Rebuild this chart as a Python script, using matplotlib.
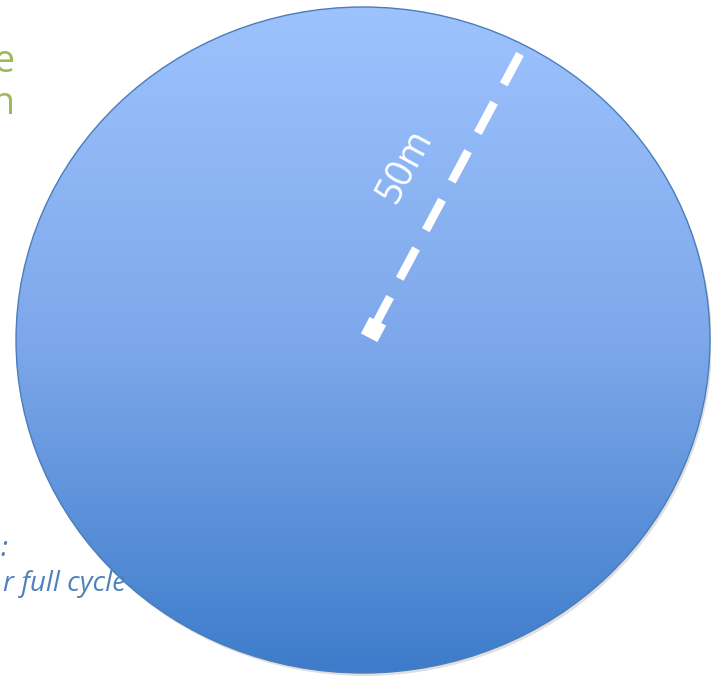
"""Radius sketch: gradient disc with a dashed radius marker."""

import matplotlib.pyplot as plt
import numpy as np
from matplotlib.colors import LinearSegmentedColormap
from matplotlib.patches import Ellipse

# disc geometry in pixel units (y grows downward)
disc_center = (363, 340)
disc_size = (694, 666)
gradient_colors = ["#9DC3FE", "#7EA8EA", "#3D7CCB"]

# radius marker from rim to centre
radius_x = [520, 373]
radius_y = [54, 329]
radius_label = "50m"

# text fragments peeking in from the left
green_lines = ["e", "n"]
blue_lines = [":", "r full cycle"]

fig = plt.figure(figsize=(7.11, 6.78), dpi=100)
ax = fig.add_axes([0, 0, 1, 1])
ax.set_xlim(0, 711)
ax.set_ylim(678, 0)
ax.axis("off")

cx, cy = disc_center
w, h = disc_size

# soft shadow under the disc
shadow = Ellipse((cx + 2, cy + 3), w, h, facecolor="#000000", alpha=0.12,
                 edgecolor="none", zorder=1)
ax.add_patch(shadow)

disc = Ellipse((cx, cy), w, h, facecolor="none", edgecolor="#4A7EBB",
               linewidth=1.0, zorder=3)
ax.add_patch(disc)

cmap = LinearSegmentedColormap.from_list("disc", gradient_colors)
grad = np.linspace(0, 1, 256).reshape(-1, 1)
img = ax.imshow(grad, cmap=cmap, aspect="auto", zorder=2,
                extent=(cx - w / 2, cx + w / 2, cy + h / 2, cy - h / 2))
clip = Ellipse((cx, cy), w, h, transform=ax.transData)
img.set_clip_path(clip)

# dashed radius line
ax.plot(radius_x, radius_y, color="white", linewidth=6.2,
        linestyle=(0, (4.0, 2.4)), dash_capstyle="butt", zorder=4)
ax.plot(radius_x[-1], radius_y[-1], marker=(4, 0, 17), markersize=19,
        color="white", markeredgewidth=0, zorder=5)

angle = np.degrees(np.arctan2(radius_y[1] - radius_y[0],
                              radius_x[0] - radius_x[1]))
ax.text(405, 166, radius_label, color="white", fontsize=27,
        family="Open Sans", rotation=angle, rotation_mode="anchor",
        ha="center", va="center", zorder=5)

for text, y in zip(green_lines, [62, 104]):
    ax.text(15, y, text, color="#9BBB59", fontsize=27, family="Open Sans",
            ha="right", va="center", zorder=5)

for text, y in zip(blue_lines, [549, 584]):
    ax.text(7 if text == ":" else 126, y, text, color="#4F81BD", fontsize=20,
            family="Open Sans", style="italic", ha="right", va="center",
            zorder=5)

fig.savefig("out.png", dpi=100)
